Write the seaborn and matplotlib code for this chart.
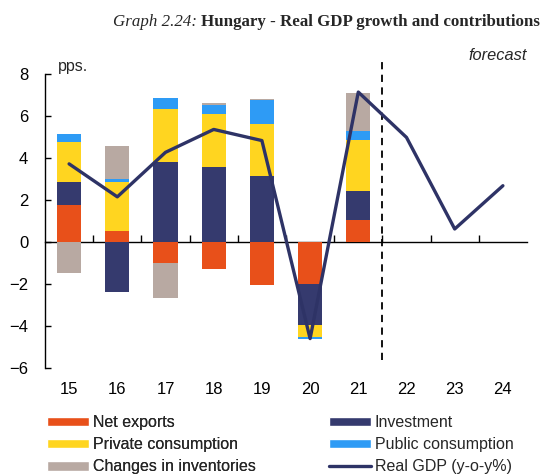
import numpy as np
import pandas as pd
import matplotlib
matplotlib.use("Agg")
import matplotlib.pyplot as plt
from matplotlib.patches import Patch
from matplotlib.lines import Line2D
import seaborn as sns

# Years (20xx) and contributions to real GDP growth, percentage points
years = [15, 16, 17, 18, 19, 20, 21, 22, 23, 24]
bar_years = [15, 16, 17, 18, 19, 20, 21]
net_exports = [1.77, 0.53, -0.99, -1.28, -2.03, -2.00, 1.05]
investment = [1.07, -2.39, 3.79, 3.56, 3.13, -1.94, 1.36]
private_consumption = [1.91, 2.31, 2.53, 2.55, 2.47, -0.57, 2.46]
public_consumption = [0.40, 0.16, 0.55, 0.40, 1.18, -0.10, 0.41]
inventories = [-1.48, 1.55, -1.67, 0.09, 0.05, 0.00, 1.83]
real_gdp = [3.72, 2.15, 4.27, 5.36, 4.83, -4.60, 7.14, 4.98, 0.62, 2.68]
forecast_start = 6.5  # boundary between 21 and 22 (position index)

components = [
    ("Net exports", net_exports, "#E8501A"),
    ("Investment", investment, "#353A6E"),
    ("Private consumption", private_consumption, "#FFD520"),
    ("Public consumption", public_consumption, "#2E9BF5"),
    ("Changes in inventories", inventories, "#B8A9A2"),
]
gdp_color = "#2E3366"

sns.set_theme(style="white")
plt.rcParams["font.family"] = ["Liberation Sans", "DejaVu Sans"]

fig = plt.figure(figsize=(5.43, 4.76), dpi=100)
ax = fig.add_axes([45 / 543, 1 - 368 / 476, 482 / 543, 294 / 476])

pos = np.arange(len(bar_years))
pos_base = np.zeros(len(bar_years))
neg_base = np.zeros(len(bar_years))
for name, vals, col in components:
    v = np.array(vals, dtype=float)
    bottoms = np.where(v >= 0, pos_base, neg_base)
    df = pd.DataFrame({"x": pos, "y": v})
    sns.barplot(data=df, x="x", y="y", native_scale=True, width=0.5,
                color=col, saturation=1, linewidth=0, bottom=bottoms,
                ax=ax, errorbar=None)
    pos_base = pos_base + np.where(v >= 0, v, 0)
    neg_base = neg_base + np.where(v < 0, v, 0)

gdp_df = pd.DataFrame({"x": np.arange(len(years)), "y": real_gdp})
sns.lineplot(data=gdp_df, x="x", y="y", color=gdp_color, linewidth=2.4, ax=ax,
             zorder=5)

ax.set_xlim(-0.5, len(years) - 0.5)
ax.set_ylim(-6, 8)
ax.set_xlabel("")
ax.set_ylabel("")

# forecast divider
ax.vlines(forecast_start, -5.6, 8.6, colors="black", linestyles=(0, (4, 3)),
          linewidth=1.3, clip_on=False)

# axes styling
for s in ["top", "right", "bottom"]:
    ax.spines[s].set_visible(False)
ax.spines["left"].set_color("black")
ax.spines["left"].set_linewidth(1.0)
ax.set_yticks(np.arange(-6, 9, 2))
ax.tick_params(axis="y", direction="in", length=4, width=1, colors="black",
               labelsize=12, pad=12, left=True)
ax.set_xticks(np.arange(len(years)))
ax.set_xticklabels([str(y) for y in years])
ax.tick_params(axis="x", length=0, labelsize=12, pad=10, colors="black")

# zero line with category separators
zero_ax = ax.secondary_xaxis(0, transform=ax.transData)
zero_ax.spines["bottom"].set_color("black")
zero_ax.spines["bottom"].set_linewidth(1.0)
zero_ax.set_xticks(np.arange(len(years) - 1) + 0.5)
zero_ax.tick_params(axis="x", direction="in", length=5, width=1,
                    labelbottom=False, colors="black")

# title: italic prefix followed by bold heading
title_y = 1 - 22 / 476
bold = fig.text(540 / 543, title_y, "Hungary - Real GDP growth and contributions",
                ha="right", va="center", fontsize=12.2, fontweight="bold",
                family="Liberation Serif")
renderer = fig.canvas.get_renderer()
bb = bold.get_window_extent(renderer=renderer)
fig.text((bb.x0 - 4) / fig.bbox.width, title_y, "Graph 2.24:", ha="right",
         va="center", fontsize=12.2, style="italic", family="Liberation Serif")

fig.text(527 / 543, 1 - 55 / 476, "forecast", ha="right", va="center",
         fontsize=11.8, style="italic")
fig.text(58 / 543, 1 - 67 / 476, "pps.", ha="left", va="center", fontsize=11.5)

legend_kw = dict(loc="upper left", frameon=False, fontsize=11.5,
                 handlelength=2.6, handleheight=0.55, handletextpad=0.25,
                 labelspacing=0.45, borderaxespad=0, borderpad=0)
left_handles = [Patch(facecolor=components[0][2], label=components[0][0]),
                Patch(facecolor=components[2][2], label=components[2][0]),
                Patch(facecolor=components[4][2], label=components[4][0])]
right_handles = [Patch(facecolor=components[1][2], label=components[1][0]),
                 Patch(facecolor=components[3][2], label=components[3][0]),
                 Line2D([], [], color=gdp_color, linewidth=2.4,
                        label="Real GDP (y-o-y%)")]
leg1 = fig.legend(handles=left_handles, bbox_to_anchor=(47 / 543, 1 - 415 / 476),
                  **legend_kw)
fig.add_artist(leg1)
fig.legend(handles=right_handles, bbox_to_anchor=(329 / 543, 1 - 415 / 476),
           **legend_kw)

fig.savefig("out.png", dpi=100)
